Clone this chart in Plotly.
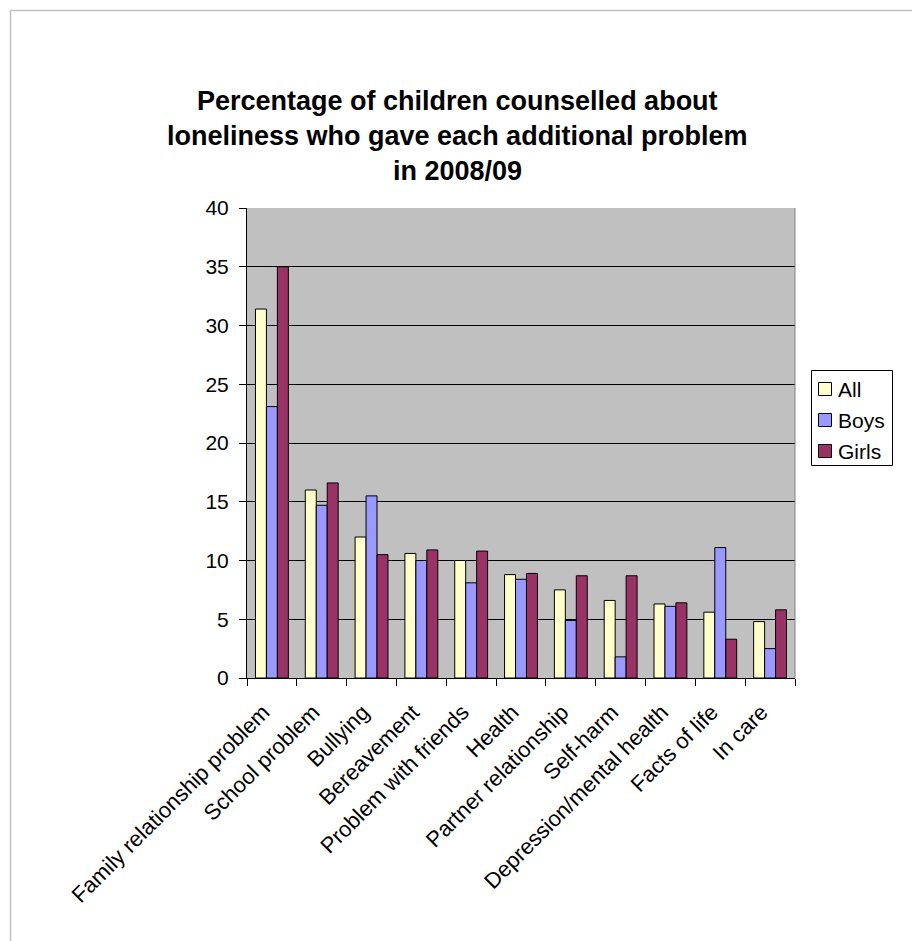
import plotly.graph_objects as go

categories = ["Family relationship problem", "School problem", "Bullying", "Bereavement",
              "Problem with friends", "Health", "Partner relationship", "Self-harm",
              "Depression/mental health", "Facts of life", "In care"]
all_vals = [31.4, 16.0, 12.0, 10.6, 10.0, 8.8, 7.5, 6.6, 6.3, 5.6, 4.8]
boys_vals = [23.1, 14.7, 15.5, 10.0, 8.1, 8.4, 4.9, 1.8, 6.1, 11.1, 2.5]
girls_vals = [35.0, 16.6, 10.5, 10.9, 10.8, 8.9, 8.7, 8.7, 6.4, 3.3, 5.8]
series_names = ["All", "Boys", "Girls"]
series_colors = ["#FFFFCC", "#9999FF", "#993366"]
title_lines = ["Percentage of children counselled about",
               "loneliness who gave each additional problem",
               "in 2008/09"]
y_ticks = [0, 5, 10, 15, 20, 25, 30, 35, 40]

W, H = 912, 941
L, R, T, B = 247, 795, 208, 678
pw, ph = R - L, B - T

def px_x(x):
    return (x - L) / pw

def px_y(y):
    return 1 - (y - T) / ph

font_family = "Liberation Sans, Arial, sans-serif"

fig = go.Figure()
for name, vals, col in zip(series_names, [all_vals, boys_vals, girls_vals], series_colors):
    fig.add_trace(go.Bar(
        name=name, x=categories, y=vals,
        marker=dict(color=col, line=dict(color="black", width=1)),
        showlegend=False,
    ))

annotations = []
for i, line in enumerate(title_lines):
    annotations.append(dict(
        text="<b>%s</b>" % line, x=px_x(457), y=px_y(101 + 35 * i),
        xref="paper", yref="paper", xanchor="center", yanchor="middle",
        showarrow=False, font=dict(size=27, color="black", family=font_family),
    ))

shapes = [
    # outer chart border (left and top)
    dict(type="line", xref="paper", yref="paper",
         x0=px_x(10.5), x1=px_x(10.5), y0=px_y(10.5), y1=px_y(H + 5),
         line=dict(color="#BFBFBF", width=1.5)),
    dict(type="line", xref="paper", yref="paper",
         x0=px_x(10.5), x1=px_x(W + 5), y0=px_y(10.5), y1=px_y(10.5),
         line=dict(color="#BFBFBF", width=1.5)),
    # plot area right edge
    dict(type="line", xref="paper", yref="paper",
         x0=1, x1=1, y0=0, y1=1, line=dict(color="#808080", width=1)),
    # legend box
    dict(type="rect", xref="paper", yref="paper",
         x0=px_x(811.5), x1=px_x(892.5), y0=px_y(370.5), y1=px_y(465.5),
         line=dict(color="black", width=1), fillcolor="white"),
]

# custom legend entries
for i, (name, col) in enumerate(zip(series_names, series_colors)):
    cy = 389 + 31 * i
    shapes.append(dict(type="rect", xref="paper", yref="paper",
                       x0=px_x(818.5), x1=px_x(831.5), y0=px_y(cy - 6.5), y1=px_y(cy + 6.5),
                       line=dict(color="black", width=1), fillcolor=col))
    annotations.append(dict(text=name, x=px_x(836), y=px_y(cy), xref="paper", yref="paper",
                            xanchor="left", yanchor="middle", showarrow=False,
                            font=dict(size=21, color="black", family=font_family)))

fig.update_layout(
    width=W, height=H,
    margin=dict(l=L, r=W - R, t=T, b=H - B, pad=0),
    paper_bgcolor="white", plot_bgcolor="#C0C0C0",
    barmode="group", bargap=0.34, bargroupgap=0,
    font=dict(family=font_family, size=21, color="black"),
    annotations=annotations, shapes=shapes,
    showlegend=False,
)
fig.update_xaxes(
    type="category", tickangle=-45, ticks="outside", ticklen=7, tickcolor="black",
    tickson="boundaries", showline=True, linecolor="black", linewidth=1,
    showgrid=False, tickfont=dict(size=22), ticklabelstandoff=3,
    tickvals=categories, ticktext=[c + "\u00a0\u00a0" for c in categories],
)
fig.update_yaxes(
    range=[0, 40], tickvals=y_ticks, ticks="outside", ticklen=7, tickcolor="black",
    showline=True, linecolor="black", linewidth=1, showgrid=True,
    gridcolor="black", gridwidth=1, zeroline=False, tickfont=dict(size=21),
    ticklabelstandoff=6,
)

fig.write_html("out.html")
